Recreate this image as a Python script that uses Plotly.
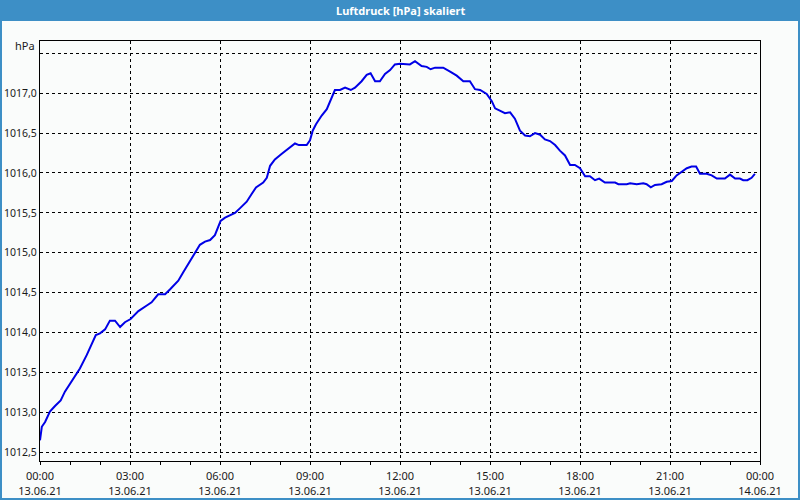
import plotly.graph_objects as go

# Data (hours since 13.06.21 00:00, pressure in hPa)
hours = [0.00, 0.06, 0.17, 0.33, 0.50, 0.69, 0.83, 1.06, 1.33, 1.56, 1.72, 1.86, 2.00, 2.17, 2.33, 2.50,
         2.67, 2.83, 3.02, 3.28, 3.56, 3.72, 3.94, 4.17, 4.33, 4.61, 4.78, 5.00, 5.33, 5.50, 5.67, 5.83,
         5.94, 6.02, 6.17, 6.33, 6.50, 6.67, 6.89, 7.06, 7.20, 7.44, 7.56, 7.67, 7.83, 8.06, 8.28, 8.50,
         8.63, 8.89, 9.00, 9.09, 9.20, 9.39, 9.56, 9.72, 9.83, 10.00, 10.17, 10.36, 10.50, 10.72, 10.89,
         11.02, 11.17, 11.33, 11.50, 11.67, 11.83, 12.00, 12.17, 12.33, 12.50, 12.72, 12.89, 13.02, 13.17,
         13.44, 13.67, 13.89, 14.11, 14.33, 14.50, 14.67, 14.89, 15.06, 15.17, 15.33, 15.50, 15.67, 15.83,
         16.00, 16.17, 16.33, 16.50, 16.67, 16.83, 17.00, 17.17, 17.33, 17.50, 17.67, 17.83, 18.00, 18.17,
         18.33, 18.50, 18.64, 18.83, 19.17, 19.28, 19.56, 19.67, 19.89, 20.11, 20.22, 20.36, 20.50, 20.72,
         20.89, 21.06, 21.22, 21.39, 21.56, 21.72, 21.87, 22.00, 22.22, 22.39, 22.56, 22.83, 23.00, 23.17,
         23.33, 23.44, 23.58, 23.72, 23.83]
pressure = [1012.65, 1012.82, 1012.88, 1013.01, 1013.08, 1013.15, 1013.26, 1013.40, 1013.55, 1013.72, 1013.86,
            1013.97, 1013.99, 1014.04, 1014.15, 1014.15, 1014.07, 1014.13, 1014.17, 1014.27, 1014.34, 1014.38,
            1014.48, 1014.48, 1014.54, 1014.65, 1014.76, 1014.90, 1015.10, 1015.14, 1015.16, 1015.22, 1015.32,
            1015.40, 1015.44, 1015.47, 1015.50, 1015.56, 1015.64, 1015.74, 1015.82, 1015.88, 1015.94, 1016.09,
            1016.17, 1016.24, 1016.30, 1016.37, 1016.35, 1016.35, 1016.41, 1016.53, 1016.61, 1016.72, 1016.80,
            1016.94, 1017.04, 1017.04, 1017.07, 1017.04, 1017.07, 1017.15, 1017.23, 1017.25, 1017.15, 1017.15,
            1017.24, 1017.29, 1017.36, 1017.37, 1017.36, 1017.36, 1017.40, 1017.34, 1017.33, 1017.30, 1017.32,
            1017.32, 1017.27, 1017.22, 1017.15, 1017.15, 1017.05, 1017.04, 1016.99, 1016.90, 1016.81, 1016.78,
            1016.75, 1016.76, 1016.68, 1016.53, 1016.47, 1016.46, 1016.50, 1016.48, 1016.42, 1016.40, 1016.35,
            1016.28, 1016.22, 1016.10, 1016.10, 1016.06, 1015.96, 1015.96, 1015.91, 1015.93, 1015.88, 1015.88,
            1015.86, 1015.86, 1015.87, 1015.86, 1015.87, 1015.86, 1015.82, 1015.85, 1015.86, 1015.89, 1015.90,
            1015.97, 1016.01, 1016.06, 1016.08, 1016.08, 1015.99, 1015.99, 1015.97, 1015.93, 1015.93, 1015.98,
            1015.93, 1015.93, 1015.91, 1015.91, 1015.94, 1015.99]

x_tickvals = [0, 3, 6, 9, 12, 15, 18, 21, 24]
x_ticktext = ["00:00<br>13.06.21", "03:00<br>13.06.21", "06:00<br>13.06.21", "09:00<br>13.06.21",
              "12:00<br>13.06.21", "15:00<br>13.06.21", "18:00<br>13.06.21", "21:00<br>13.06.21",
              "00:00<br>14.06.21"]
y_tickvals = [1012.5, 1013.0, 1013.5, 1014.0, 1014.5, 1015.0, 1015.5, 1016.0, 1016.5, 1017.0, 1017.5]
y_ticktext = ["1012,5", "1013,0", "1013,5", "1014,0", "1014,5", "1015,0", "1015,5", "1016,0", "1016,5",
              "1017,0", ""]

title = "Luftdruck [hPa] skaliert"
unit = "hPa"

BG = "#fafcfb"
BLUE = "#3d8fc6"
FONT = "Noto Sans"

# plot area in pixels: x 40..760, y 41..461
L, R, T, B = 40, 40, 41, 39
PW, PH = 800 - L - R, 500 - T - B

def px(xp):
    return (xp - L) / PW

def py(yp):
    return (500 - B - yp) / PH

fig = go.Figure()
fig.add_trace(go.Scatter(x=hours, y=pressure, mode="lines",
                         line=dict(color="#0000e6", width=2), hoverinfo="skip"))

fig.update_layout(
    width=800, height=500,
    margin=dict(l=L, r=R, t=T, b=B, pad=0, autoexpand=False),
    paper_bgcolor=BG, plot_bgcolor=BG,
    showlegend=False,
    font=dict(family=FONT, size=11, color="#1a1a1a"),
    xaxis=dict(range=[0, 24], tickmode="array", tickvals=x_tickvals, ticktext=x_ticktext,
               showgrid=True, gridcolor="black", griddash="3px,3px", gridwidth=1,
               showline=True, linecolor="black", linewidth=1, mirror=True,
               ticks="outside", ticklen=3, tickcolor="black", zeroline=False,
               minor=dict(tickmode="linear", tick0=0, dtick=1, ticks="outside", ticklen=3,
                          tickcolor="black", showgrid=False),
               automargin=False, tickfont=dict(size=11), ticklabelstandoff=2, fixedrange=True),
    yaxis=dict(range=[1012.391, 1017.654], tickmode="array", tickvals=y_tickvals, ticktext=y_ticktext,
               showgrid=True, gridcolor="black", griddash="3px,3px", gridwidth=1,
               showline=True, linecolor="black", linewidth=1, mirror=True,
               ticks="", zeroline=False, ticklabelstandoff=0, automargin=False,
               tickfont=dict(size=10.5), fixedrange=True),
)

# title bar
fig.add_shape(type="rect", xref="paper", yref="paper",
              x0=px(0), x1=px(800), y0=py(21), y1=py(0),
              fillcolor=BLUE, line=dict(width=0), layer="above")
# outer window border
fig.add_shape(type="rect", xref="paper", yref="paper",
              x0=px(1), x1=px(799), y0=py(499), y1=py(1),
              fillcolor="rgba(0,0,0,0)", line=dict(color=BLUE, width=2), layer="above")

fig.add_annotation(x=px(400), y=py(10.5), xref="paper", yref="paper", text="<b>" + title + "</b>",
                   showarrow=False, font=dict(family=FONT, size=11, color="white"),
                   xanchor="center", yanchor="middle")
fig.add_annotation(x=px(37), y=py(46), xref="paper", yref="paper", text=unit,
                   showarrow=False, font=dict(family=FONT, size=11, color="#1a1a1a"),
                   xanchor="right", yanchor="middle")

fig.write_html("out.html")
